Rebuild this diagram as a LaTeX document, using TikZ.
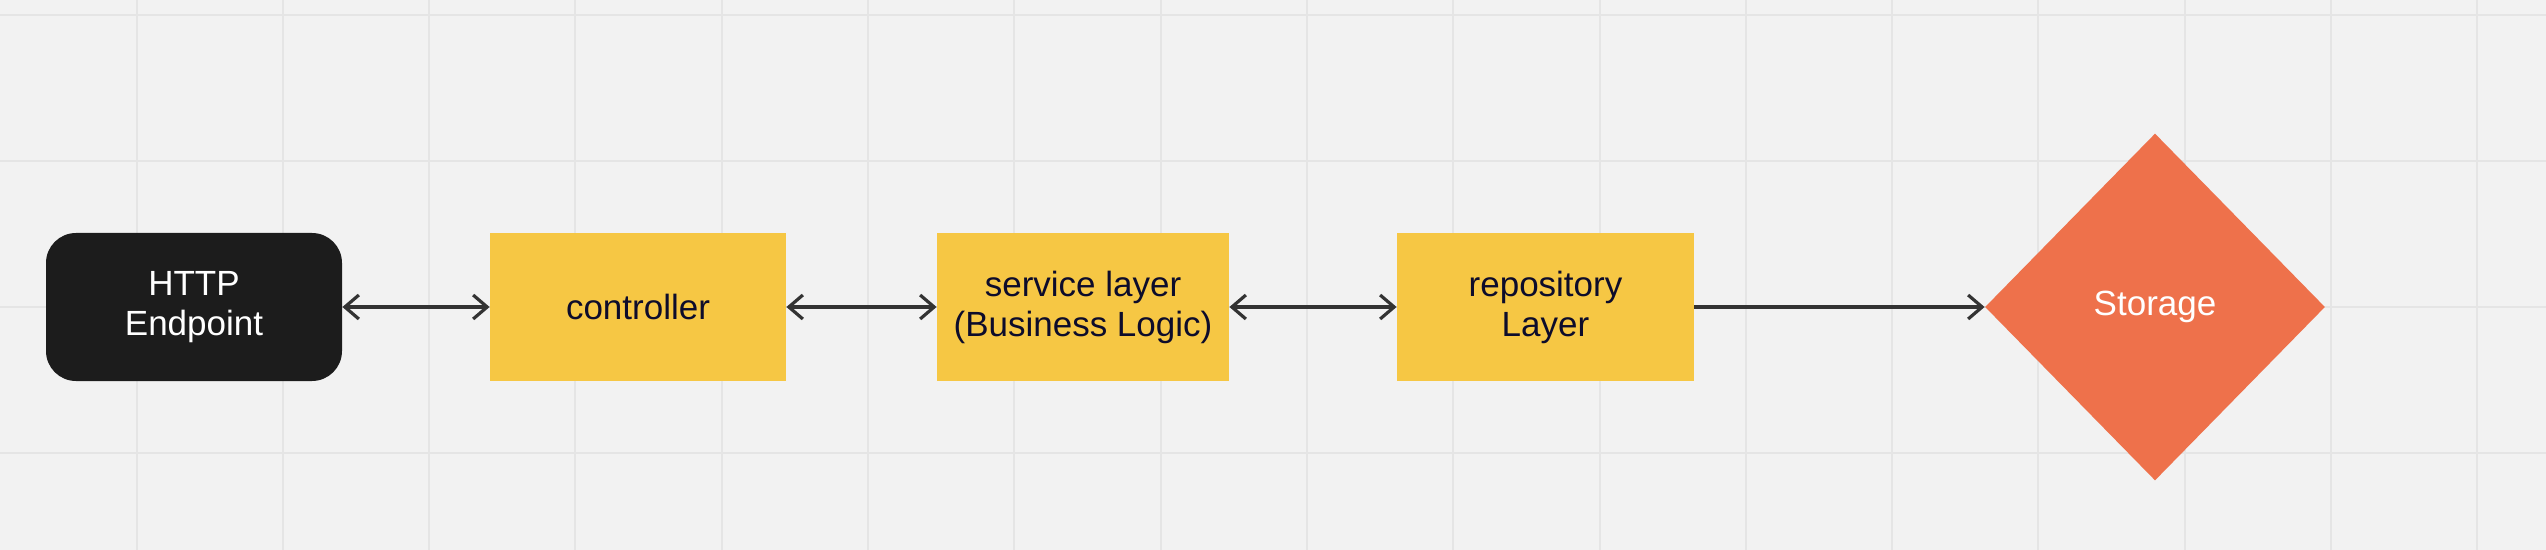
\documentclass[tikz,border=0pt]{standalone}
\usepackage{fontspec}
\setmainfont{Liberation Sans}
\usetikzlibrary{arrows.meta, shapes.geometric}
\definecolor{cbg}{HTML}{F2F2F2}
\definecolor{cgrid}{HTML}{E5E5E5}
\definecolor{cblack}{HTML}{1C1C1C}
\definecolor{cyellow}{HTML}{F6C744}
\definecolor{corange}{HTML}{EE714B}
\definecolor{cink}{HTML}{0D0C2B}
\definecolor{carrow}{HTML}{333333}
\tikzset{
  every picture/.style={font=\fontsize{17.5}{20}\selectfont},
  box/.style={fill=#1, align=center, inner sep=0pt, minimum width=148pt, minimum height=74pt, text=cink},
  box/.default=cyellow,
  arrow/.style={{Straight Barb[length=7pt, width=12pt]}-{Straight Barb[length=7pt, width=12pt]}, draw=carrow, line width=1.6pt},
  oneway/.style={-{Straight Barb[length=7pt, width=12pt]}, draw=carrow, line width=1.6pt},
}

\begin{document}
\begin{tikzpicture}[x=0.5pt, y=-0.5pt]
  % canvas and grid
  \fill[cbg] (0, 0) rectangle (2546, 550);
  \useasboundingbox (0, 0) rectangle (2546, 550);
  \foreach \k in {0,...,16}
    \draw[cgrid, line width=1pt] (136.5+146.3*\k, 0) -- (136.5+146.3*\k, 550);
  \foreach \y in {15, 161, 307, 453}
    \draw[cgrid, line width=1pt] (0, \y) -- (2546, \y);

  \node[box=cblack, rounded corners=15pt, text=white] (http) at (194, 307) {HTTP\\Endpoint};
  \node[box] (ctrl) at (638, 307) {controller};
  \node[box, minimum width=146pt] (service) at (1083, 307) {service layer\\(Business Logic)};
  \node[box, minimum width=148.5pt] (repo) at (1545.5, 307) {repository\\Layer};
  \node[diamond, fill=corange, text=white, inner sep=0pt, minimum width=170pt, minimum height=173.5pt] (storage) at (2155, 307) {Storage};

  \draw[arrow] (http) -- (ctrl);
  \draw[arrow] (ctrl) -- (service);
  \draw[arrow] (service) -- (repo);
  \draw[oneway] (repo) -- (storage);
\end{tikzpicture}
\end{document}
